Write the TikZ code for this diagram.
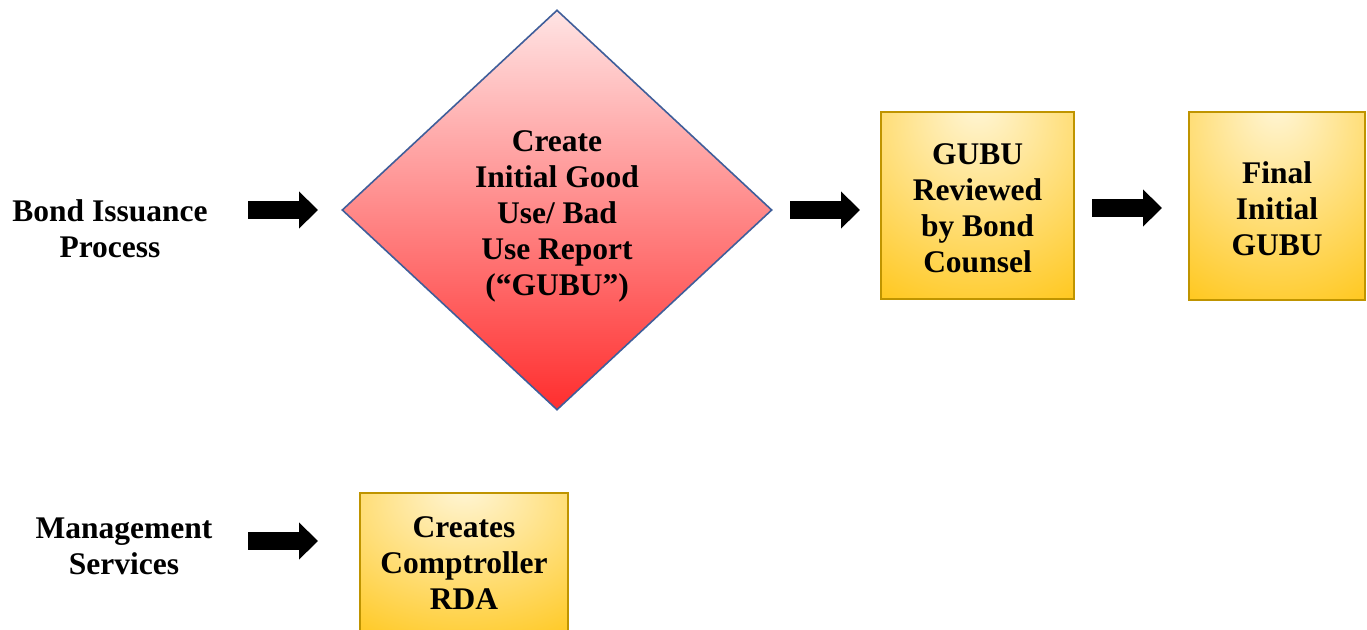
\documentclass[tikz,border=0pt]{standalone}
\usepackage{fontspec}
\setmainfont{Liberation Serif}
\usetikzlibrary{shapes.geometric,arrows.meta}
\definecolor{goldlight}{HTML}{FFF6D8}
\definecolor{golddark}{HTML}{FFC000}
\definecolor{goldedge}{HTML}{BF9400}
\definecolor{pinklight}{HTML}{FFE4E4}
\definecolor{reddark}{HTML}{FF2E2E}
\definecolor{diaedge}{HTML}{3F5E9A}
\pgfdeclareradialshading{goldrad}{\pgfpoint{0bp}{28bp}}{color(0bp)=(goldlight); color(25bp)=(golddark!45!goldlight); color(55bp)=(golddark); color(100bp)=(golddark)}
\tikzset{
  lbl/.style={align=center, font=\bfseries\fontsize{31.5}{36}\selectfont, inner sep=0pt},
  goldbox/.style={draw=goldedge, line width=2.2pt, shading=goldrad, inner sep=0pt},
  diabox/.style={diamond, draw=diaedge, line width=1.6pt, top color=pinklight, bottom color=reddark, inner sep=0pt, minimum width=430pt, minimum height=400pt},
  blockarrow/.style={line width=18pt, -{Triangle[length=19pt,width=36pt]}}
}
\begin{document}
\begin{tikzpicture}[x=1pt,y=-1pt]
\useasboundingbox[fill=white] (0,0) rectangle (1367,629);
% row 1
\node[lbl] (bond) at (110,229) {Bond Issuance\\Process};
\coordinate (a1s) at (248,210);
\coordinate (a1e) at (318,210);
\node[diabox] (dia) at (557,210) {};
\node[lbl] (diatxt) at (557,216) {Create\\Initial Good\\Use/ Bad\\Use Report\\(“GUBU”)};
\coordinate (a2s) at (790,210);
\coordinate (a2e) at (860,210);
\path[goldbox] (881,112) rectangle (1074,299);
\node[lbl] (rev) at (977.5,208) {GUBU\\Reviewed\\by Bond\\Counsel};
\coordinate (a3s) at (1092,208);
\coordinate (a3e) at (1162,208);
\path[goldbox] (1189,112) rectangle (1365,300);
\node[lbl] (fin) at (1277,209) {Final\\Initial\\GUBU};
% row 2
\node[lbl] (mgmt) at (124,546) {Management\\Services};
\coordinate (a4s) at (248,541);
\coordinate (a4e) at (318,541);
\path[goldbox] (360,493) rectangle (568,640);
\node[lbl] (rda) at (464,563) {Creates\\Comptroller\\RDA};
% arrows
\draw[blockarrow] (a1s) -- (a1e);
\draw[blockarrow] (a2s) -- (a2e);
\draw[blockarrow] (a3s) -- (a3e);
\draw[blockarrow] (a4s) -- (a4e);
\end{tikzpicture}
\end{document}
